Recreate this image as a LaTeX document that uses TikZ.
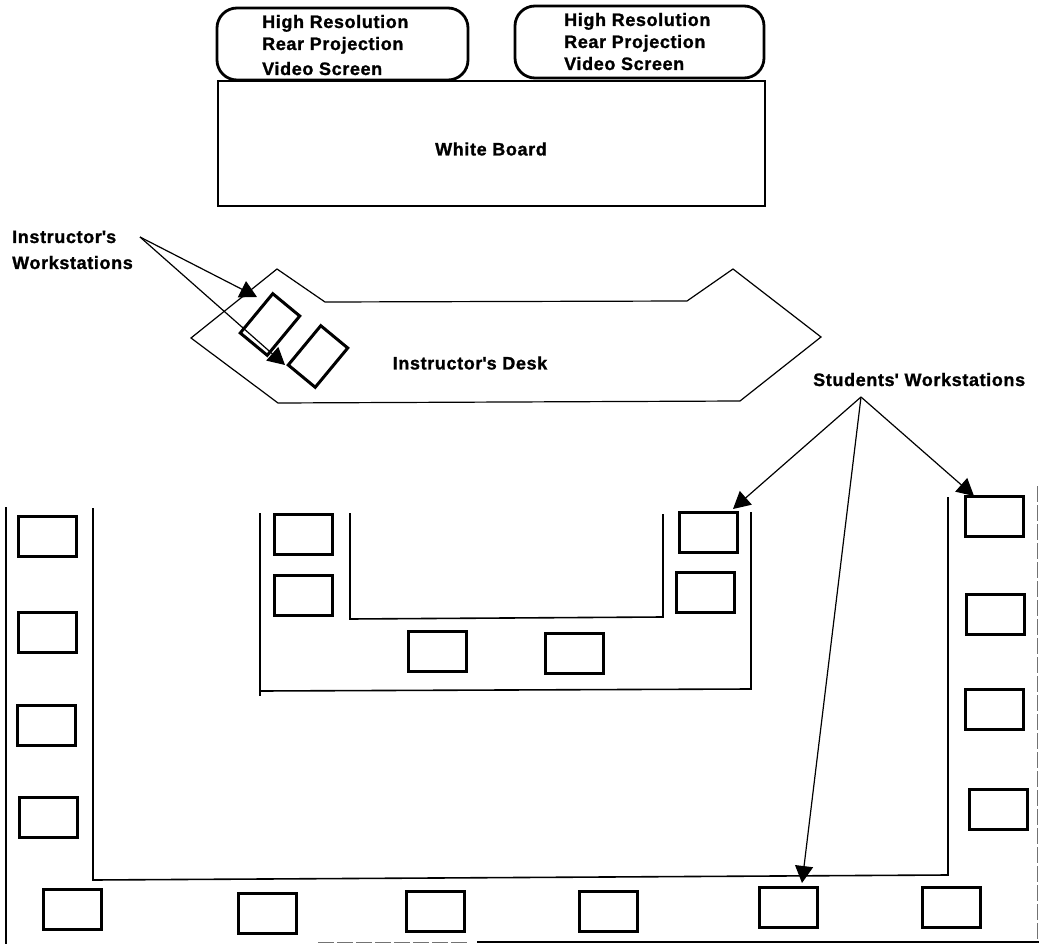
\documentclass[tikz,border=0pt]{standalone}
\usepackage{fontspec}
\setmainfont{Liberation Sans}
\usetikzlibrary{arrows.meta}
\tikzset{
  wsbox/.style={draw=black,line width=3pt,minimum width=58pt,minimum height=40pt,inner sep=0pt,outer sep=0pt},
  wsrot/.style={draw=black,line width=3pt,minimum width=35pt,minimum height=51pt,inner sep=0pt,rotate=-39.6},
  wall/.style={draw=black,line width=1.6pt,line join=miter},
  faintwall/.style={draw=black!55,line width=1.4pt,dash pattern=on 16pt off 3pt},
  thinwall/.style={draw=black,line width=1.2pt,line join=miter},
  screenbox/.style={draw=black,line width=2.8pt,rounded corners=20pt},
  lab/.style={font=\fontsize{18}{18}\selectfont\bfseries\addfontfeature{LetterSpace=3.5,FakeBold=1.2},inner sep=0pt,anchor=base west},
  pointer/.style={draw=black,line width=1.2pt,-{Triangle[length=17pt,width=18pt]}}
}
\begin{document}
\begin{tikzpicture}[x=1pt,y=-1pt]
\useasboundingbox (0,0) rectangle (1039,944);
% screens and board
\draw[screenbox] (217,8) rectangle (468,80);
\draw[screenbox] (515,6) rectangle (764,78);
\node[draw=black,line width=2.2pt,minimum width=547pt,minimum height=125pt,inner sep=0pt] (wb) at (491.5,143.5) {};
\node[lab] (s1a) at (262,28) {High Resolution};
\node[lab] (s1b) at (262,50) {Rear Projection};
\node[lab] (s1c) at (262,75) {Video Screen};
\node[lab] (s2a) at (564,26) {High Resolution};
\node[lab] (s2b) at (564,48) {Rear Projection};
\node[lab] (s2c) at (564,70) {Video Screen};
\node[lab,anchor=center] (wbl) at (491,149) {White Board};
% desk
\draw[thinwall] (277,269) -- (325,302) -- (687,301) -- (733,269) -- (821,337) -- (740,401) -- (278,403) -- (191,338) -- cycle;
\node[lab,anchor=center] (deskl) at (470,363) {Instructor\textquotesingle s Desk};
\node[wsrot] (iw1) at (270,324.5) {};
\node[wsrot] (iw2) at (318,356.5) {};
% labels
\node[lab] (il1) at (12,243) {Instructor\textquotesingle s};
\node[lab] (il2) at (12,269) {Workstations};
\node[lab] (sl) at (813,386) {Students\textquotesingle\ Workstations};
% walls
\draw[wall] (6,507) -- (6,944);
\draw[wall] (93,508) -- (93,880) -- (948,875) -- (948,497);
\draw[faintwall] (318,942.5) -- (470,942.5);
\draw[wall] (477,942) -- (1039,942);
\draw[faintwall] (1037.5,486) -- (1037.5,942);
\draw[wall] (260,513) -- (260,696);
\draw[wall] (260,691) -- (751,689) -- (751,512);
\draw[wall] (350,513) -- (350,619) -- (663,617) -- (663,514);
% students' workstations
\node[wsbox] (a1) at (47,536) {};
\node[wsbox] (a2) at (47.5,632) {};
\node[wsbox] (a3) at (46,725.5) {};
\node[wsbox] (a4) at (48,817.5) {};
\node[wsbox] (b1) at (72,909) {};
\node[wsbox] (b2) at (267.5,913) {};
\node[wsbox] (b3) at (435,911.5) {};
\node[wsbox] (b4) at (608.5,911) {};
\node[wsbox] (b5) at (788,907) {};
\node[wsbox] (b6) at (951.5,907.5) {};
\node[wsbox] (c1) at (303,534) {};
\node[wsbox] (c2) at (303.5,595) {};
\node[wsbox] (c3) at (437,651) {};
\node[wsbox] (c4) at (574,653.5) {};
\node[wsbox] (c5) at (708,532) {};
\node[wsbox] (c6) at (705.5,592.5) {};
\node[wsbox] (d1) at (994,516.5) {};
\node[wsbox] (d2) at (995,614.5) {};
\node[wsbox] (d3) at (994.5,709) {};
\node[wsbox] (d4) at (998,809) {};
% pointers
\coordinate (io) at (140,237);
\coordinate (so) at (861,397);
\coordinate (it1) at (257,297);
\coordinate (it2) at (285,365);
\coordinate (st1) at (733,509);
\coordinate (st2) at (974,496);
\coordinate (st3) at (802,883);
\draw[pointer] (io) -- (it1);
\draw[pointer] (io) -- (it2);
\draw[pointer] (so) -- (st1);
\draw[pointer] (so) -- (st2);
\draw[pointer] (so) -- (st3);
\end{tikzpicture}
\end{document}
